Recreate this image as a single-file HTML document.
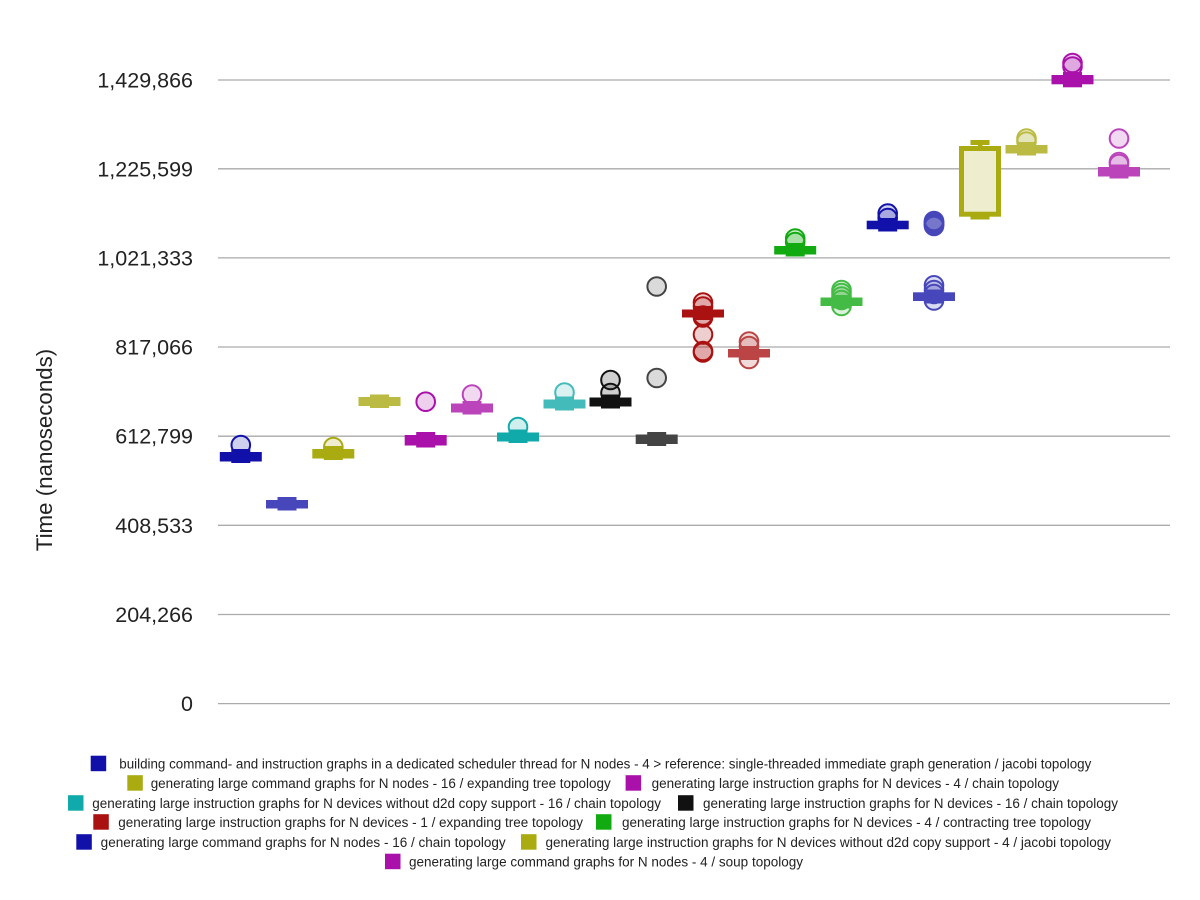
<!DOCTYPE html>
<html>
<head>
<meta charset="utf-8">
<style>
  html, body { margin: 0; padding: 0; background: #ffffff; }
  svg { display: block; }
  text { font-family: "Liberation Sans", sans-serif; fill: #222222; }
</style>
</head>
<body>
<svg width="1200" height="900" viewBox="0 0 1200 900" xmlns="http://www.w3.org/2000/svg">
  <rect x="0" y="0" width="1200" height="900" fill="#ffffff"/>

  <!-- gridlines -->
  <g stroke="#aaaaaa" stroke-width="1.3">
    <line x1="218" y1="80" x2="1170" y2="80"/>
    <line x1="218" y1="168.8" x2="1170" y2="168.8"/>
    <line x1="218" y1="257.9" x2="1170" y2="257.9"/>
    <line x1="218" y1="347" x2="1170" y2="347"/>
    <line x1="218" y1="436.2" x2="1170" y2="436.2"/>
    <line x1="218" y1="525.3" x2="1170" y2="525.3"/>
    <line x1="218" y1="614.5" x2="1170" y2="614.5"/>
    <line x1="218" y1="703.6" x2="1170" y2="703.6"/>
  </g>

  <!-- tick labels -->
  <g font-size="21.5" text-anchor="end">
    <text x="193" y="87.5">1,429,866</text>
    <text x="193" y="176.3">1,225,599</text>
    <text x="193" y="265.4">1,021,333</text>
    <text x="193" y="354.5">817,066</text>
    <text x="193" y="443.7">612,799</text>
    <text x="193" y="532.8">408,533</text>
    <text x="193" y="622">204,266</text>
    <text x="193" y="711.1">0</text>
  </g>

  <!-- y-axis title -->
  <text transform="translate(52,450) rotate(-90)" font-size="22.3" text-anchor="middle">Time (nanoseconds)</text>

  <!-- outlier circles -->
  <g stroke-width="2" fill-opacity="0.2">
    <circle cx="240.8" cy="445" r="9.3" fill="#1111aa" stroke="#1111aa"/>
    <circle cx="333.3" cy="447" r="9.3" fill="#aaaa11" stroke="#aaaa11"/>
    <circle cx="425.7" cy="401.7" r="9.3" fill="#aa11aa" stroke="#aa11aa"/>
    <circle cx="472" cy="394.5" r="9.3" fill="#bb44bb" stroke="#bb44bb"/>
    <circle cx="518" cy="427" r="9.3" fill="#11aaaa" stroke="#11aaaa"/>
    <circle cx="564.5" cy="392.5" r="9.3" fill="#44bbbb" stroke="#44bbbb"/>
    <circle cx="610.5" cy="380" r="9.3" fill="#111111" stroke="#111111"/>
    <circle cx="610.5" cy="393" r="9.3" fill="#111111" stroke="#111111"/>
    <circle cx="656.7" cy="286.5" r="9.3" fill="#444444" stroke="#444444"/>
    <circle cx="656.7" cy="378" r="9.3" fill="#444444" stroke="#444444"/>
    <!-- red -->
    <circle cx="703" cy="302.5" r="9.3" fill="#aa1111" stroke="#aa1111"/>
    <circle cx="703" cy="306.5" r="9.3" fill="#aa1111" stroke="#aa1111"/>
    <circle cx="703" cy="315.5" r="9.3" fill="#aa1111" stroke="#aa1111"/>
    <circle cx="703" cy="317.5" r="9.3" fill="#aa1111" stroke="#aa1111"/>
    <circle cx="703" cy="334.5" r="9.3" fill="#aa1111" stroke="#aa1111"/>
    <circle cx="703" cy="351" r="9.3" fill="#aa1111" stroke="#aa1111"/>
    <circle cx="703" cy="352.5" r="9.3" fill="#aa1111" stroke="#aa1111"/>
    <circle cx="749" cy="341.5" r="9.3" fill="#bb4444" stroke="#bb4444"/>
    <circle cx="749" cy="346" r="9.3" fill="#bb4444" stroke="#bb4444"/>
    <circle cx="749" cy="359" r="9.3" fill="#bb4444" stroke="#bb4444"/>
    <!-- green -->
    <circle cx="795.2" cy="238.5" r="9.3" fill="#11aa11" stroke="#11aa11"/>
    <circle cx="795.2" cy="242" r="9.3" fill="#11aa11" stroke="#11aa11"/>
    <circle cx="841.5" cy="290" r="9.3" fill="#44bb44" stroke="#44bb44"/>
    <circle cx="841.5" cy="293" r="9.3" fill="#44bb44" stroke="#44bb44"/>
    <circle cx="841.5" cy="296.5" r="9.3" fill="#44bb44" stroke="#44bb44"/>
    <circle cx="841.5" cy="300" r="9.3" fill="#44bb44" stroke="#44bb44"/>
    <circle cx="841.5" cy="306" r="9.3" fill="#44bb44" stroke="#44bb44"/>
    <!-- blue -->
    <circle cx="887.7" cy="213.5" r="9.3" fill="#1111aa" stroke="#1111aa"/>
    <circle cx="887.7" cy="218" r="9.3" fill="#1111aa" stroke="#1111aa"/>
    <circle cx="934" cy="221" r="9.3" fill="#4747bb" stroke="#4747bb"/>
    <circle cx="934" cy="222" r="9.3" fill="#4747bb" stroke="#4747bb"/>
    <circle cx="934" cy="223" r="9.3" fill="#4747bb" stroke="#4747bb"/>
    <circle cx="934" cy="224" r="9.3" fill="#4747bb" stroke="#4747bb"/>
    <circle cx="934" cy="225" r="9.3" fill="#4747bb" stroke="#4747bb"/>
    <circle cx="934" cy="226" r="9.3" fill="#4747bb" stroke="#4747bb"/>
    <circle cx="934" cy="285.3" r="9.3" fill="#4747bb" stroke="#4747bb"/>
    <circle cx="934" cy="290" r="9.3" fill="#4747bb" stroke="#4747bb"/>
    <circle cx="934" cy="294" r="9.3" fill="#4747bb" stroke="#4747bb"/>
    <circle cx="934" cy="300.5" r="9.3" fill="#4747bb" stroke="#4747bb"/>
    <!-- olive -->
    <circle cx="1026.5" cy="138.5" r="9.3" fill="#bbbb44" stroke="#bbbb44"/>
    <circle cx="1026.5" cy="141.5" r="9.3" fill="#bbbb44" stroke="#bbbb44"/>
    <!-- magenta -->
    <circle cx="1072.5" cy="63" r="9.3" fill="#aa11aa" stroke="#aa11aa"/>
    <circle cx="1072.5" cy="66.5" r="9.3" fill="#aa11aa" stroke="#aa11aa"/>
    <circle cx="1119" cy="138.5" r="9.3" fill="#bb44bb" stroke="#bb44bb"/>
    <circle cx="1119" cy="162" r="9.3" fill="#bb44bb" stroke="#bb44bb"/>
    <circle cx="1119" cy="164" r="9.3" fill="#bb44bb" stroke="#bb44bb"/>
  </g>

  <!-- boxes: wide box + narrow whisker caps -->
  <g>
    <rect x="219.8" y="452" width="42" height="9.5" fill="#1111aa"/>
    <rect x="231.3" y="449" width="19" height="14" fill="#1111aa"/>

    <rect x="266" y="500" width="42" height="8.5" fill="#4747bb"/>
    <rect x="277.5" y="497" width="19" height="13.5" fill="#4747bb"/>

    <rect x="312.3" y="449" width="42" height="9.5" fill="#aaaa11"/>
    <rect x="323.8" y="446" width="19" height="14" fill="#aaaa11"/>

    <rect x="358.5" y="397" width="42" height="9" fill="#bbbb44"/>
    <rect x="370" y="394.5" width="19" height="13.5" fill="#bbbb44"/>

    <rect x="404.7" y="435" width="42" height="10.5" fill="#aa11aa"/>
    <rect x="416.2" y="432" width="19" height="15.5" fill="#aa11aa"/>

    <rect x="451" y="403.5" width="42" height="9" fill="#bb44bb"/>
    <rect x="462.5" y="401" width="19" height="13.5" fill="#bb44bb"/>

    <rect x="497" y="432.5" width="42" height="9" fill="#11aaaa"/>
    <rect x="508.5" y="429.5" width="19" height="13.5" fill="#11aaaa"/>

    <rect x="543.5" y="399.5" width="42" height="9" fill="#44bbbb"/>
    <rect x="555" y="396.5" width="19" height="14" fill="#44bbbb"/>

    <rect x="589.5" y="397.5" width="42" height="9" fill="#111111"/>
    <rect x="601" y="394.5" width="19" height="14" fill="#111111"/>

    <rect x="635.7" y="434.5" width="42" height="9.5" fill="#444444"/>
    <rect x="647.2" y="432" width="19" height="14" fill="#444444"/>

    <rect x="682" y="309.5" width="42" height="8" fill="#aa1111"/>
    <rect x="693.5" y="306" width="19" height="14" fill="#aa1111"/>

    <rect x="728" y="349" width="42" height="8.5" fill="#bb4444"/>
    <rect x="739.5" y="346" width="19" height="14" fill="#bb4444"/>

    <rect x="774.2" y="246" width="42" height="8.5" fill="#11aa11"/>
    <rect x="785.7" y="243" width="19" height="13.5" fill="#11aa11"/>

    <rect x="820.5" y="297.5" width="42" height="8.5" fill="#44bb44"/>
    <rect x="832" y="295" width="19" height="13.5" fill="#44bb44"/>

    <rect x="866.7" y="220.7" width="42" height="8.6" fill="#1111aa"/>
    <rect x="878.2" y="218" width="19" height="13.5" fill="#1111aa"/>

    <rect x="913" y="292.3" width="42" height="8.7" fill="#4747bb"/>
    <rect x="924.5" y="289.5" width="19" height="14" fill="#4747bb"/>

    <!-- big olive box -->
    <rect x="961.5" y="148.5" width="37" height="65.7" fill="#eeeecf" stroke="#aaaa11" stroke-width="5"/>
    <rect x="970.5" y="140" width="19" height="5" fill="#aaaa11"/>
    <rect x="978" y="144" width="4.5" height="3" fill="#aaaa11"/>
    <rect x="970.5" y="215" width="19" height="4.5" fill="#aaaa11"/>

    <rect x="1005.5" y="145" width="42" height="8.5" fill="#bbbb44"/>
    <rect x="1017" y="142" width="19" height="13.5" fill="#bbbb44"/>

    <rect x="1051.5" y="75" width="42" height="9.3" fill="#aa11aa"/>
    <rect x="1063" y="72" width="19" height="15.3" fill="#aa11aa"/>

    <rect x="1098" y="167" width="42" height="9.5" fill="#bb44bb"/>
    <rect x="1109.5" y="164.5" width="19" height="14" fill="#bb44bb"/>
  </g>

  <!-- legend -->
  <g font-size="13.5">
    <rect x="90.7" y="755.7" width="15.5" height="15.5" fill="#1111aa"/>
    <text x="119.3" y="768.5" textLength="972" lengthAdjust="spacingAndGlyphs">building command- and instruction graphs in a dedicated scheduler thread for N nodes - 4 &gt; reference: single-threaded immediate graph generation / jacobi topology</text>

    <rect x="127.3" y="775.2" width="15.5" height="15.5" fill="#aaaa11"/>
    <text x="150.7" y="788" textLength="460" lengthAdjust="spacingAndGlyphs">generating large command graphs for N nodes - 16 / expanding tree topology</text>
    <rect x="625.6" y="775.2" width="15.5" height="15.5" fill="#aa11aa"/>
    <text x="651.6" y="788" textLength="407.4" lengthAdjust="spacingAndGlyphs">generating large instruction graphs for N devices - 4 / chain topology</text>

    <rect x="68" y="795.2" width="15.5" height="15.5" fill="#11aaaa"/>
    <text x="92.3" y="808" textLength="568.7" lengthAdjust="spacingAndGlyphs">generating large instruction graphs for N devices without d2d copy support - 16 / chain topology</text>
    <rect x="678" y="795.2" width="15.5" height="15.5" fill="#111111"/>
    <text x="703" y="808" textLength="415" lengthAdjust="spacingAndGlyphs">generating large instruction graphs for N devices - 16 / chain topology</text>

    <rect x="93.3" y="814.2" width="15.5" height="15.5" fill="#aa1111"/>
    <text x="118.3" y="827" textLength="464.7" lengthAdjust="spacingAndGlyphs">generating large instruction graphs for N devices - 1 / expanding tree topology</text>
    <rect x="596" y="814.2" width="15.5" height="15.5" fill="#11aa11"/>
    <text x="622" y="827" textLength="469" lengthAdjust="spacingAndGlyphs">generating large instruction graphs for N devices - 4 / contracting tree topology</text>

    <rect x="76.3" y="834.2" width="15.5" height="15.5" fill="#1111aa"/>
    <text x="100.7" y="847" textLength="405" lengthAdjust="spacingAndGlyphs">generating large command graphs for N nodes - 16 / chain topology</text>
    <rect x="521" y="834.2" width="15.5" height="15.5" fill="#aaaa11"/>
    <text x="545.5" y="847" textLength="565.5" lengthAdjust="spacingAndGlyphs">generating large instruction graphs for N devices without d2d copy support - 4 / jacobi topology</text>

    <rect x="385" y="853.7" width="15.5" height="15.5" fill="#aa11aa"/>
    <text x="409" y="866.5" textLength="394" lengthAdjust="spacingAndGlyphs">generating large command graphs for N nodes - 4 / soup topology</text>
  </g>
</svg>
</body>
</html>
